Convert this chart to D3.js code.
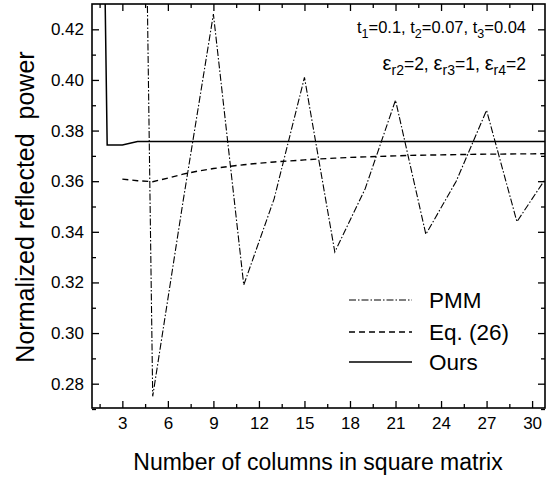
<!DOCTYPE html>
<html>
<head>
<meta charset="utf-8">
<script src="https://cdn.jsdelivr.net/npm/d3@7"></script>
<style>
  html, body { margin: 0; padding: 0; background: #fff; }
  svg { display: block; }
  text { font-family: "Liberation Sans", Arial, sans-serif; fill: #000; }
</style>
</head>
<body>
<svg id="chart" width="547" height="477"></svg>
<script>
// ---- data ----
const oursX = [1,2,3,4,5,6,7,8,9,10,11,12,13,14,15,16,17,18,19,20,21,22,23,24,25,26,27,28,29,30,31];
const oursY = [0.80,0.3743,0.3743,0.3757,0.3757,0.3757,0.3757,0.3757,0.3757,0.3757,0.3757,0.3757,0.3757,0.3757,0.3757,0.3757,0.3757,0.3757,0.3757,0.3757,0.3757,0.3757,0.3757,0.3757,0.3757,0.3757,0.3757,0.3757,0.3757,0.3757,0.3757];
const eqX = [3,4,5,6,7,8,9,10,11,12,13,14,15,16,17,18,19,20,21,22,23,24,25,26,27,28,29,30,31];
const eqY = [0.3608,0.3602,0.3598,0.3612,0.3628,0.3640,0.3650,0.3658,0.3665,0.3671,0.3676,0.3680,0.3684,0.3688,0.3691,0.3694,0.3696,0.3698,0.3700,0.3702,0.3703,0.3704,0.3705,0.3706,0.3707,0.3707,0.3708,0.3708,0.3709];
const pmmX = [3,5,7,9,11,13,15,17,19,21,23,25,27,29,31];
const pmmY = [1.16,0.275,0.352,0.426,0.319,0.353,0.401,0.332,0.357,0.392,0.339,0.360,0.388,0.344,0.362];
const xTicks = [3,6,9,12,15,18,21,24,27,30];
const xMinor = [1.5,4.5,7.5,10.5,13.5,16.5,19.5,22.5,25.5,28.5];
const yTicks = [0.28,0.30,0.32,0.34,0.36,0.38,0.40,0.42];
const yMinor = [0.27,0.29,0.31,0.33,0.35,0.37,0.39,0.41];
const legendLabels = ["PMM","Eq. (26)","Ours"];

// ---- layout ----
const L = 92, R = 545, T = 4, B = 408;
const svg = d3.select("#chart");
const x = d3.scaleLinear().domain([1, 30.85]).range([L, R]);
const y = d3.scaleLinear().domain([0.27, 0.43]).range([409, 4]);

svg.append("defs").append("clipPath").attr("id","clip")
  .append("rect").attr("x",L).attr("y",T).attr("width",R-L).attr("height",B-T);

function tickAxis(axisGen, transform) {
  const g = svg.append("g").attr("transform", transform).call(axisGen);
  g.select(".domain").remove();
  g.selectAll("line").attr("stroke","#000").attr("stroke-width",1.3);
  return g;
}
// bottom
const bx = tickAxis(d3.axisBottom(x).tickValues(xTicks).tickSize(-7).tickPadding(9).tickFormat(d3.format("d")), `translate(0,${B})`);
bx.selectAll("text").attr("font-size",17);
tickAxis(d3.axisBottom(x).tickValues(xMinor).tickSize(-4).tickFormat(""), `translate(0,${B})`);
// top
tickAxis(d3.axisTop(x).tickValues(xTicks).tickSize(-7).tickFormat(""), `translate(0,${T})`);
tickAxis(d3.axisTop(x).tickValues(xMinor).tickSize(-4).tickFormat(""), `translate(0,${T})`);
// left
const ly = tickAxis(d3.axisLeft(y).tickValues(yTicks).tickSize(-7).tickPadding(8).tickFormat(d3.format(".2f")), `translate(${L},0)`);
ly.selectAll("text").attr("font-size",17);
tickAxis(d3.axisLeft(y).tickValues(yMinor).tickSize(-4).tickFormat(""), `translate(${L},0)`);
// right
tickAxis(d3.axisRight(y).tickValues(yTicks).tickSize(-7).tickFormat(""), `translate(${R},0)`);
tickAxis(d3.axisRight(y).tickValues(yMinor).tickSize(-4).tickFormat(""), `translate(${R},0)`);

svg.append("rect").attr("x",L).attr("y",T).attr("width",R-L).attr("height",B-T)
  .attr("fill","none").attr("stroke","#000").attr("stroke-width",1.6);

// lines
const line = d3.line().x(d => x(d[0])).y(d => y(d[1]));
const plot = svg.append("g").attr("clip-path","url(#clip)");
const styles = [
  {X: pmmX, Y: pmmY, dash: "7,2,1.5,2", w: 1.1},
  {X: eqX, Y: eqY, dash: "6,4", w: 1.4},
  {X: oursX, Y: oursY, dash: null, w: 1.5}
];
styles.forEach(s => {
  plot.append("path").datum(s.X.map((v,i) => [v, s.Y[i]]))
    .attr("d", line).attr("fill","none").attr("stroke","#000")
    .attr("stroke-width", s.w).attr("stroke-dasharray", s.dash);
});

// legend
const legY = [300, 332, 362];
styles.forEach((s,i) => {
  svg.append("line").attr("x1",349).attr("x2",412).attr("y1",legY[i]).attr("y2",legY[i])
    .attr("stroke","#000").attr("stroke-width", s.w).attr("stroke-dasharray", s.dash);
  svg.append("text").attr("x",429).attr("y",legY[i]+8).attr("font-size",22.5).text(legendLabels[i]);
});

// annotations: parts = [text, isSub, size]
function subText(yPos, mainSize, subSize, parts) {
  const t = svg.append("text").attr("x",526).attr("y",yPos).attr("text-anchor","end").attr("font-size",mainSize);
  let down = false;
  parts.forEach(p => {
    const ts = t.append("tspan").text(p[0]);
    if (p[1]) { ts.attr("font-size",subSize).attr("dy",5); down = true; }
    else { ts.attr("dy", down ? -5 : 0); down = false; if (p[2]) ts.attr("font-size", p[2]); }
  });
}
subText(33, 16.5, 12.5, [["t"],["1",true],["=0.1, t"],["2",true],["=0.07, t"],["3",true],["=0.04"]]);
subText(70, 17.5, 14, [["ε",false,20],["r2",true],["=2, "],["ε",false,20],["r3",true],["=1, "],["ε",false,20],["r4",true],["=2"]]);

// axis titles
svg.append("text").attr("x",318).attr("y",470).attr("text-anchor","middle").attr("font-size",23)
  .text("Number of columns in square matrix");
svg.append("text").attr("transform","translate(34,207) rotate(-90)").attr("text-anchor","middle")
  .attr("font-size",25).style("white-space","pre").text("Normalized reflected  power");
</script>
</body>
</html>
